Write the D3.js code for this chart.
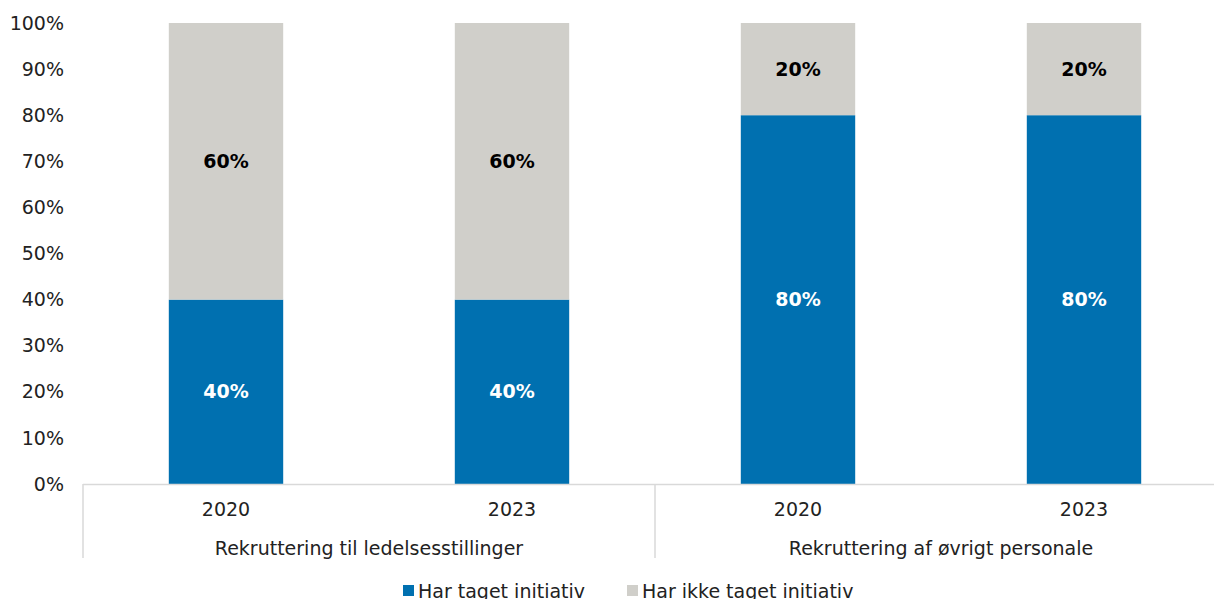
<!DOCTYPE html>
<html><head><meta charset="utf-8">
<script src="https://cdn.jsdelivr.net/npm/d3@7"></script>
<style>body{margin:0;background:#fff}svg{display:block}text{font-family:Verdana,"DejaVu Sans",sans-serif}</style>
</head><body>
<script>
const groups = ["Rekruttering til ledelsesstillinger", "Rekruttering af øvrigt personale"];
const years = ["2020", "2023", "2020", "2023"];
const groupOf = [0, 0, 1, 1];
const taget = [40, 40, 80, 80];
const ikkeTaget = [60, 60, 20, 20];
const seriesNames = ["Har taget initiativ", "Har ikke taget initiativ"];
const colors = ["#0070B0", "#D0CFCA"];
const yTicks = [0,10,20,30,40,50,60,70,80,90,100];

const W = 1214, H = 599;
const FS = 19;
const svg = d3.select("body").append("svg").attr("width", W).attr("height", H);
const pL = 83, pR = 1227, pT = 23, pB = 484;
const idx = d3.range(years.length);
const x = d3.scaleBand().domain(idx).range([pL, pR]).paddingInner(0.6).paddingOuter(0.3);
const y = d3.scaleLinear().domain([0, 100]).range([pB, pT]);

// y axis labels
svg.append("g").selectAll("text").data(yTicks).join("text")
  .attr("x", 64).attr("y", d => y(d)).attr("dy", "0.35em")
  .attr("text-anchor", "end").attr("font-size", FS).attr("fill", "#222")
  .text(d => d + "%");

// bars
const stackData = idx.map(i => ({i, s: [[0, taget[i]], [taget[i], taget[i] + ikkeTaget[i]]]}));
[0, 1].forEach(k => {
  svg.append("g").selectAll("rect").data(stackData).join("rect")
    .attr("x", d => x(d.i)).attr("width", x.bandwidth())
    .attr("y", d => y(d.s[k][1])).attr("height", d => y(d.s[k][0]) - y(d.s[k][1]))
    .attr("fill", colors[k]);
  svg.append("g").selectAll("text").data(stackData).join("text")
    .attr("x", d => x(d.i) + x.bandwidth() / 2)
    .attr("y", d => y((d.s[k][0] + d.s[k][1]) / 2)).attr("dy", "0.35em")
    .attr("text-anchor", "middle").attr("font-size", FS).attr("font-weight", "bold")
    .attr("fill", k === 0 ? "#fff" : "#000")
    .text(d => (d.s[k][1] - d.s[k][0]) + "%");
});

// axis line and separators
const step = x.step();
svg.append("line").attr("x1", pL).attr("x2", pR).attr("y1", pB + 0.5).attr("y2", pB + 0.5)
  .attr("stroke", "#d9d9d9").attr("stroke-width", 1.5);
const sepX = [pL, pL + step * 2, pR];
svg.append("g").selectAll("line").data(sepX).join("line")
  .attr("x1", d => d).attr("x2", d => d).attr("y1", pB).attr("y2", 558)
  .attr("stroke", "#d9d9d9").attr("stroke-width", 1.5);

// year labels
svg.append("g").selectAll("text").data(idx).join("text")
  .attr("x", i => x(i) + x.bandwidth() / 2).attr("y", 509).attr("dy", "0.35em")
  .attr("text-anchor", "middle").attr("font-size", FS).attr("fill", "#222")
  .text(i => years[i]);
// group labels
svg.append("g").selectAll("text").data(groups).join("text")
  .attr("x", (d, g) => pL + step * (2 * g + 1)).attr("y", 548).attr("dy", "0.35em")
  .attr("text-anchor", "middle").attr("font-size", FS).attr("fill", "#222")
  .text(d => d);

// legend
const legX = [403, 627];
const leg = svg.append("g").selectAll("g").data(seriesNames).join("g")
  .attr("transform", (d, i) => `translate(${legX[i]},591)`);
leg.append("rect").attr("x", 0).attr("y", -6).attr("width", 11).attr("height", 11).attr("fill", (d, i) => colors[i]);
leg.append("text").attr("x", 15).attr("y", 0).attr("dy", "0.35em").attr("font-size", FS).attr("fill", "#222").text(d => d);
</script>
</body></html>
